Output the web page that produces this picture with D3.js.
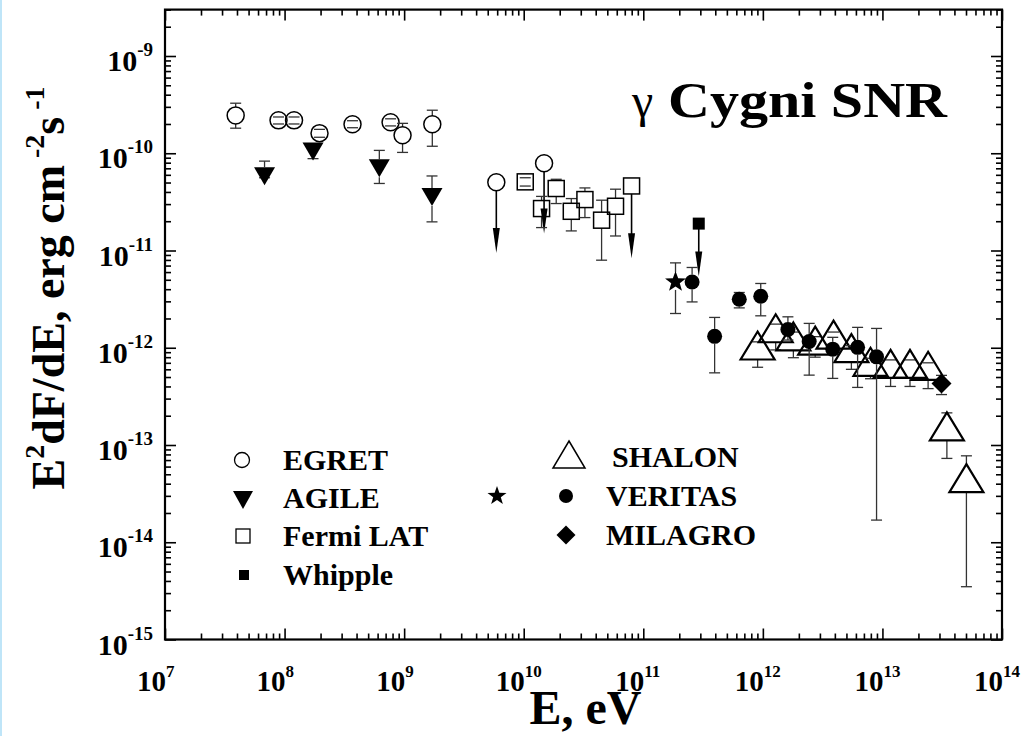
<!DOCTYPE html>
<html><head><meta charset="utf-8">
<script src="https://cdn.jsdelivr.net/npm/d3@7"></script>
<style>body{margin:0;background:#fff;}svg{display:block;}</style>
</head><body>
<svg id="chart" width="1023" height="736"></svg>
<script>
// ---------------- DATA ----------------
const xTickExps = [7, 8, 9, 10, 11, 12, 13, 14];
const yTickExps = [-15, -14, -13, -12, -11, -10, -9];

const egretE  = [3.9e7, 8.9e7, 1.2e8, 1.96e8, 3.7e8, 7.7e8, 9.7e8, 1.72e9];
const egretV  = [2.45e-10, 2.18e-10, 2.18e-10, 1.61e-10, 1.99e-10, 2.08e-10, 1.53e-10, 1.99e-10];
const egretHi = [3.27e-10, 2.36e-10, 2.36e-10, 1.76e-10, 2.16e-10, 2.26e-10, 2.03e-10, 2.77e-10];
const egretLo = [1.81e-10, 2.0e-10, 2.0e-10, 1.46e-10, 1.83e-10, 1.91e-10, 1.02e-10, 1.18e-10];
const egretUlE = [5.9e9, 1.48e10];
const egretUlV = [5.04e-11, 7.9e-11];
const egretUlTip = [9.4e-12, 1.5e-11];

const agileE  = [6.8e7, 1.73e8, 6.2e8, 1.71e9];
const agileV  = [6.24e-11, 1.12e-10, 7.54e-11, 3.8e-11];
const agileHi = [8.3e-11, 1.18e-10, 1.07e-10, 5.84e-11];
const agileLo = [5.6e-11, 8.8e-11, 4.89e-11, 1.97e-11];

const fermiE  = [1.03e10, 1.41e10, 1.87e10, 2.5e10, 3.25e10, 4.48e10, 5.86e10];
const fermiV  = [5.08e-11, 2.7e-11, 4.34e-11, 2.53e-11, 3.34e-11, 2.05e-11, 2.85e-11];
const fermiHi = [5.6e-11, 3.6e-11, 5.4e-11, 3.42e-11, 4.4e-11, 3.29e-11, 4.27e-11];
const fermiLo = [4.6e-11, 1.72e-11, 3.04e-11, 1.59e-11, 2.18e-11, 7.95e-12, 1.41e-11];
const fermiUlE = [7.98e10];
const fermiUlV = [4.61e-11];
const fermiUlTip = [8.34e-12];

const whippleE = [2.91e11];
const whippleV = [1.89e-11];
const whippleTip = [5.4e-12];

const starE  = [1.86e11];
const starV  = [4.75e-12];
const starHi = [7.46e-12];
const starLo = [2.25e-12];

const veritasE  = [2.56e11, 3.95e11, 6.35e11, 9.6e11, 1.62e12, 2.44e12, 3.84e12, 6.2e12, 8.93e12];
const veritasV  = [4.75e-12, 1.31e-12, 3.15e-12, 3.39e-12, 1.54e-12, 1.16e-12, 9.67e-13, 1.01e-12, 8.06e-13];
const veritasHi = [6.69e-12, 2.05e-12, 3.7e-12, 4.58e-12, 2.08e-12, 1.78e-12, 1.28e-12, 1.62e-12, 1.58e-12];
const veritasLo = [2.96e-12, 5.52e-13, 2.57e-12, 2.13e-12, 1.2e-12, 5.23e-13, 4.84e-13, 3.91e-13, 1.69e-14];

const shalonE  = [9.04e11, 1.28e12, 1.8e12, 2.74e12, 3.9e12, 5.5e12, 7.95e12, 1.17e13, 1.7e13, 2.41e13, 3.46e13, 5.04e13];
const shalonV  = [9.44e-13, 1.42e-12, 1.17e-12, 1.06e-12, 1.22e-12, 8.87e-13, 6.42e-13, 6.12e-13, 6.12e-13, 5.84e-13, 1.39e-13, 4.09e-14];
const shalonHi = [1.15e-12, 1.75e-12, 1.45e-12, 1.3e-12, 1.45e-12, 1.05e-12, 7.8e-13, 7.5e-13, 7.5e-13, 7.0e-13, 2.14e-13, 7.74e-14];
const shalonLo = [6.3e-13, 9.5e-13, 7.9e-13, 8.0e-13, 1.0e-12, 6.0e-13, 4.8e-13, 4.0e-13, 4.0e-13, 3.8e-13, 7.28e-14, 3.49e-15];

const milagroE  = [3.12e13];
const milagroV  = [4.3e-13];
const milagroHi = [5.2e-13];
const milagroLo = [3.3e-13];

const legendLeft  = ["EGRET", "AGILE", "Fermi LAT", "Whipple"];
const legendRight = ["SHALON", "VERITAS", "MILAGRO"];
const titleText = "Cygni SNR";

// ---------------- SETUP ----------------
const FONT = '"Liberation Serif", "Tinos", "Times New Roman", serif';
const svg = d3.select("#chart");
svg.append("rect").attr("x",0).attr("y",0).attr("width",1023).attr("height",736).attr("fill","#fff");
svg.append("rect").attr("x",0).attr("y",0).attr("width",2).attr("height",736).attr("fill","#bfe5f8");

function txt(parent) {
  return parent.append("text").style("font-family", FONT).style("font-weight", "bold").attr("fill", "#000");
}

const L = 165, R = 1002, T = 9.6, B = 639.5;
const x = d3.scaleLog().domain([1e7, 1e14]).range([L, R]);
const y = d3.scaleLog().domain([1e-15, 3e-9]).range([B, T]);

function minorTicks(scale, lo, hi) {
  const out = [];
  for (let e = lo; e <= hi; e++) for (let m = 2; m <= 9; m++) {
    const v = m * Math.pow(10, e);
    const d = scale.domain();
    if (v >= d[0] * 0.999 && v <= d[1] * 1.001) out.push(v);
  }
  return out;
}
const xMajor = xTickExps.map(e => Math.pow(10, e));
const yMajor = yTickExps.map(e => Math.pow(10, e));
const xMinor = minorTicks(x, 7, 13);
const yMinor = minorTicks(y, -15, -9);

const MAJ = 11, MIN = 6;
function styleAxis(g) {
  g.select(".domain").remove();
  g.selectAll(".tick line").attr("stroke", "#000").attr("stroke-width", 1.6);
  g.selectAll(".tick text").remove();
}
svg.append("g").attr("transform", `translate(0,${B})`).call(d3.axisBottom(x).tickValues(xMajor).tickSize(-MAJ).tickFormat("")).call(styleAxis);
svg.append("g").attr("transform", `translate(0,${B})`).call(d3.axisBottom(x).tickValues(xMinor).tickSize(-MIN).tickFormat("")).call(styleAxis);
svg.append("g").attr("transform", `translate(0,${T})`).call(d3.axisTop(x).tickValues(xMajor).tickSize(-MAJ).tickFormat("")).call(styleAxis);
svg.append("g").attr("transform", `translate(0,${T})`).call(d3.axisTop(x).tickValues(xMinor).tickSize(-MIN).tickFormat("")).call(styleAxis);
svg.append("g").attr("transform", `translate(${L},0)`).call(d3.axisLeft(y).tickValues(yMajor).tickSize(-MAJ).tickFormat("")).call(styleAxis);
svg.append("g").attr("transform", `translate(${L},0)`).call(d3.axisLeft(y).tickValues(yMinor).tickSize(-MIN).tickFormat("")).call(styleAxis);
svg.append("g").attr("transform", `translate(${R},0)`).call(d3.axisRight(y).tickValues(yMajor).tickSize(-MAJ).tickFormat("")).call(styleAxis);
svg.append("g").attr("transform", `translate(${R},0)`).call(d3.axisRight(y).tickValues(yMinor).tickSize(-MIN).tickFormat("")).call(styleAxis);

svg.append("rect").attr("x", L).attr("y", T).attr("width", R - L).attr("height", B - T)
  .attr("fill", "none").attr("stroke", "#000").attr("stroke-width", 2.2);

// tick labels
xTickExps.forEach(e => {
  const t = txt(svg).attr("x", x(Math.pow(10, e)) - 28).attr("y", B + 51).style("font-size", "29px");
  t.append("tspan").text("10");
  t.append("tspan").style("font-size", "17px").attr("dy", -14).text(String(e));
});
yTickExps.forEach(e => {
  const t = txt(svg).attr("x", L - 12).attr("y", y(Math.pow(10, e)) + 15).style("font-size", "30px")
    .attr("text-anchor", "end");
  t.append("tspan").text("10");
  t.append("tspan").style("font-size", "19px").attr("dy", -15).text(String(e));
});

// axis titles
txt(svg).style("font-size", "48px").attr("x", (L + R) / 2 + 2).attr("y", 724).attr("text-anchor", "middle").text("E, eV");

const yt = txt(svg).style("font-size", "46px").attr("text-anchor", "middle")
  .attr("transform", "translate(64,288) rotate(-90)");
yt.append("tspan").text("E");
yt.append("tspan").style("font-size", "28px").attr("dy", -20).text("2");
yt.append("tspan").attr("dy", 20).text("dF/dE, erg cm");
yt.append("tspan").style("font-size", "28px").attr("dy", -20).text(" -2");
yt.append("tspan").attr("dy", 20).text("s");
yt.append("tspan").style("font-size", "28px").attr("dy", -20).text(" -1");

// chart title
txt(svg).style("font-weight", "normal").style("font-size", "48px").attr("x", 632).attr("y", 117).text("γ");
txt(svg).style("font-size", "50px").attr("x", 668).attr("y", 117)
  .attr("textLength", 279).attr("lengthAdjust", "spacingAndGlyphs").text(titleText);

// ---------------- MARKS ----------------
const plot = svg.append("g");
const ERR = "#333";

function errBar(g, cx, cy, yHi, yLo, gapUp, gapDown, capW) {
  const st = l => l.attr("stroke", ERR).attr("stroke-width", 1.3);
  if (yHi != null) {
    if (cy - yHi > gapUp) st(g.append("line").attr("x1", cx).attr("x2", cx).attr("y1", cy - gapUp).attr("y2", yHi));
    st(g.append("line").attr("x1", cx - capW/2).attr("x2", cx + capW/2).attr("y1", yHi).attr("y2", yHi));
  }
  if (yLo != null) {
    if (yLo - cy > gapDown) st(g.append("line").attr("x1", cx).attr("x2", cx).attr("y1", cy + gapDown).attr("y2", yLo));
    st(g.append("line").attr("x1", cx - capW/2).attr("x2", cx + capW/2).attr("y1", yLo).attr("y2", yLo));
  }
}
function arrow(g, cx, y0, y1) {
  const head = 25, hw = 3.5;
  g.append("line").attr("x1", cx).attr("x2", cx).attr("y1", y0).attr("y2", y1 - head + 2)
    .attr("stroke", "#000").attr("stroke-width", 1.6);
  g.append("path").attr("d", `M${cx - hw},${y1 - head} L${cx + hw},${y1 - head} L${cx},${y1} Z`).attr("fill", "#000");
}
function triUp(cx, cy, w, h) { return `M${cx},${cy - 2*h/3} L${cx + w/2},${cy + h/3} L${cx - w/2},${cy + h/3} Z`; }
function triDown(cx, cy, w, h) { return `M${cx},${cy + 2*h/3} L${cx + w/2},${cy - h/3} L${cx - w/2},${cy - h/3} Z`; }
function star(cx, cy, ro, ri) {
  let p = "";
  for (let i = 0; i < 10; i++) {
    const r = i % 2 ? ri : ro, a = -Math.PI/2 + i * Math.PI/5;
    p += (i ? "L" : "M") + (cx + r*Math.cos(a)) + "," + (cy + r*Math.sin(a));
  }
  return p + "Z";
}
function diamond(cx, cy, r) { return `M${cx},${cy - r} L${cx + r},${cy} L${cx},${cy + r} L${cx - r},${cy} Z`; }

shalonE.forEach((e, i) => {
  const cx = x(e), cy = y(shalonV[i]), w = 34, h = 28;
  errBar(plot, cx, cy, y(shalonHi[i]), y(shalonLo[i]), 2*h/3, h/3, 11);
  plot.append("path").attr("d", triUp(cx, cy, w, h)).attr("fill", "none").attr("stroke", "#000").attr("stroke-width", 2.2);
});

egretE.forEach((e, i) => {
  const cx = x(e), cy = y(egretV[i]), r = 8.5;
  errBar(plot, cx, cy, y(egretHi[i]), y(egretLo[i]), r, r, 11);
  plot.append("circle").attr("cx", cx).attr("cy", cy).attr("r", r).attr("fill", "none").attr("stroke", "#000").attr("stroke-width", 1.5);
});
egretUlE.forEach((e, i) => {
  const cx = x(e), cy = y(egretUlV[i]), r = 8.5;
  arrow(plot, cx, cy + r, y(egretUlTip[i]));
  plot.append("circle").attr("cx", cx).attr("cy", cy).attr("r", r).attr("fill", "none").attr("stroke", "#000").attr("stroke-width", 1.5);
});

agileE.forEach((e, i) => {
  const cx = x(e), cy = y(agileV[i]), w = 21, h = 18;
  errBar(plot, cx, cy, y(agileHi[i]), y(agileLo[i]), h/3, 2*h/3, 11);
  plot.append("path").attr("d", triDown(cx, cy, w, h)).attr("fill", "#000");
});

fermiE.forEach((e, i) => {
  const cx = x(e), cy = y(fermiV[i]), s = 16;
  errBar(plot, cx, cy, y(fermiHi[i]), y(fermiLo[i]), s/2, s/2, 11);
  plot.append("rect").attr("x", cx - s/2).attr("y", cy - s/2).attr("width", s).attr("height", s)
    .attr("fill", "none").attr("stroke", "#000").attr("stroke-width", 1.5);
});
fermiUlE.forEach((e, i) => {
  const cx = x(e), cy = y(fermiUlV[i]), s = 16;
  arrow(plot, cx, cy + s/2, y(fermiUlTip[i]));
  plot.append("rect").attr("x", cx - s/2).attr("y", cy - s/2).attr("width", s).attr("height", s)
    .attr("fill", "none").attr("stroke", "#000").attr("stroke-width", 1.5);
});

whippleE.forEach((e, i) => {
  const cx = x(e), cy = y(whippleV[i]), s = 12;
  arrow(plot, cx, cy, y(whippleTip[i]));
  plot.append("rect").attr("x", cx - s/2).attr("y", cy - s/2).attr("width", s).attr("height", s).attr("fill", "#000");
});

starE.forEach((e, i) => {
  const cx = x(e), cy = y(starV[i]);
  errBar(plot, cx, cy, y(starHi[i]), y(starLo[i]), 10, 8, 11);
  plot.append("path").attr("d", star(cx, cy, 11, 4.5)).attr("fill", "#000");
});

veritasE.forEach((e, i) => {
  const cx = x(e), cy = y(veritasV[i]), r = 7.5;
  errBar(plot, cx, cy, y(veritasHi[i]), y(veritasLo[i]), r, r, 11);
  plot.append("circle").attr("cx", cx).attr("cy", cy).attr("r", r).attr("fill", "#000");
});

milagroE.forEach((e, i) => {
  const cx = x(e), cy = y(milagroV[i]), r = 10;
  errBar(plot, cx, cy, y(milagroHi[i]), y(milagroLo[i]), r, r, 11);
  plot.append("path").attr("d", diamond(cx, cy, r)).attr("fill", "#000");
});

// ---------------- LEGEND ----------------
const lg = svg.append("g");
const rowsL = [460, 498, 536, 575];
const rowsR = [457, 496, 535];
function ltext(xp, yp, s) {
  txt(lg).style("font-size", "30px").attr("x", xp).attr("y", yp + 10).text(s);
}
lg.append("circle").attr("cx", 242).attr("cy", rowsL[0]).attr("r", 7.5).attr("fill", "none").attr("stroke", "#000").attr("stroke-width", 1.3);
lg.append("path").attr("d", triDown(243, rowsL[1] - 1, 20, 18)).attr("fill", "#000");
lg.append("rect").attr("x", 236).attr("y", rowsL[2] - 7).attr("width", 14).attr("height", 14).attr("fill", "none").attr("stroke", "#000").attr("stroke-width", 1.3);
lg.append("rect").attr("x", 239).attr("y", rowsL[3] - 5).attr("width", 10).attr("height", 10).attr("fill", "#000");
legendLeft.forEach((s, i) => ltext(283, rowsL[i], s));

lg.append("path").attr("d", triUp(569, rowsR[0] + 2, 32, 27)).attr("fill", "none").attr("stroke", "#000").attr("stroke-width", 1.5);
lg.append("path").attr("d", star(497, rowsR[1], 10, 4)).attr("fill", "#000");
lg.append("circle").attr("cx", 566).attr("cy", rowsR[1]).attr("r", 7).attr("fill", "#000");
lg.append("path").attr("d", diamond(566, rowsR[2], 9.5)).attr("fill", "#000");
ltext(612, rowsR[0], legendRight[0]);
ltext(606, rowsR[1], legendRight[1]);
ltext(606, rowsR[2], legendRight[2]);
</script>
</body></html>
